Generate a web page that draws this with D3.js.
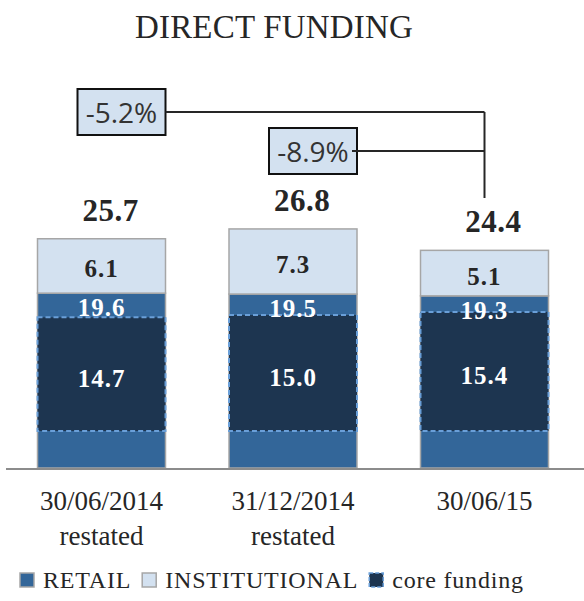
<!DOCTYPE html>
<html>
<head>
<meta charset="utf-8">
<script src="https://cdnjs.cloudflare.com/ajax/libs/d3/7.8.5/d3.min.js"></script>
<style>
  body { margin: 0; background: #fff; }
  svg text { font-family: "Liberation Serif", "Times New Roman", serif; }
</style>
</head>
<body>
<div id="chart"></div>
<script>
// data
var periods = ["30/06/2014|restated", "31/12/2014|restated", "30/06/15"];
var retail = [19.6, 19.5, 19.3];
var institutional = [6.1, 7.3, 5.1];
var totals = [25.7, 26.8, 24.4];
var coreFunding = [14.7, 15.0, 15.4];
var changes = [{from: 0, to: 2, label: "-5.2%"}, {from: 1, to: 2, label: "-8.9%"}];

var _width = 584, _height = 601;
var colors = {retail: "#336699", inst: "#d3e1f0", core: "#1d3550", dash: "#6a9fd8", edge: "#a6a6a6", text: "#262626"};

var svg = d3.select("#chart").append("svg")
  .attr("width", _width)
  .attr("height", _height);

var x = d3.scaleBand()
  .domain(periods)
  .range([6, 580])
  .paddingInner(0.3316)
  .paddingOuter(0.1645);

var y = d3.scaleLinear()
  .domain([0, 30])
  .range([468, 468 - 30 * 8.92]);

// core funding is drawn on its own scale, floating inside the retail bar
var y2 = d3.scaleLinear()
  .domain([0, 20])
  .range([431, 431 - 20 * 7.73]);

svg.append("text")
  .attr("x", 274).attr("y", 38)
  .attr("text-anchor", "middle")
  .style("font-size", "33px")
  .style("letter-spacing", "0.2px")
  .style("fill", "#262626")
  .text("DIRECT FUNDING");

var barsG = svg.append("g").attr("class", "bars");

// retail segments
barsG.selectAll("rect.retail")
  .data(retail)
  .enter().append("rect")
    .attr("class", "retail")
    .attr("x", function (d, i) { return x(periods[i]); })
    .attr("width", x.bandwidth())
    .attr("y", function (d) { return y(d); })
    .attr("height", function (d) { return y(0) - y(d); })
    .style("fill", colors.retail)
    .style("stroke", colors.edge)
    .style("stroke-width", 1.5);

// institutional segments stacked on top
barsG.selectAll("rect.inst")
  .data(institutional)
  .enter().append("rect")
    .attr("class", "inst")
    .attr("x", function (d, i) { return x(periods[i]); })
    .attr("width", x.bandwidth())
    .attr("y", function (d, i) { return y(retail[i] + d); })
    .attr("height", function (d) { return y(0) - y(d); })
    .style("fill", colors.inst)
    .style("stroke", colors.edge)
    .style("stroke-width", 1.5);

// core funding overlay
barsG.selectAll("rect.core")
  .data(coreFunding)
  .enter().append("rect")
    .attr("class", "core")
    .attr("x", function (d, i) { return x(periods[i]); })
    .attr("width", x.bandwidth())
    .attr("y", function (d) { return y2(d); })
    .attr("height", function (d) { return y2(0) - y2(d); })
    .style("fill", colors.core)
    .style("stroke", colors.dash)
    .style("stroke-width", 2)
    .style("stroke-dasharray", "5,3");

// baseline
svg.append("line")
  .attr("x1", 6).attr("x2", 584)
  .attr("y1", y(0) + 1).attr("y2", y(0) + 1)
  .style("stroke", "#8c8c8c")
  .style("stroke-width", 2);

var cx = function (i) { return x(periods[i]) + x.bandwidth() / 2; };

var labelsG = svg.append("g").attr("class", "labels")
  .style("font-weight", "bold")
  .style("font-size", "25px")
  .style("letter-spacing", "1px");

labelsG.selectAll("text.inst")
  .data(institutional)
  .enter().append("text")
    .attr("x", function (d, i) { return cx(i); })
    .attr("y", function (d, i) { return (y(retail[i]) + y(retail[i] + d)) / 2 + 3; })
    .attr("text-anchor", "middle")
    .attr("dominant-baseline", "central")
    .style("fill", colors.text)
    .text(function (d) { return d.toFixed(1); });

labelsG.selectAll("text.retail")
  .data(retail)
  .enter().append("text")
    .attr("x", function (d, i) { return cx(i); })
    .attr("y", function (d) { return y(d) + 23; })
    .attr("text-anchor", "middle")
    .style("fill", "#fff")
    .text(function (d) { return d.toFixed(1); });

labelsG.selectAll("text.core")
  .data(coreFunding)
  .enter().append("text")
    .attr("x", function (d, i) { return cx(i); })
    .attr("y", function (d) { return (y2(0) + y2(d)) / 2 + 4; })
    .attr("text-anchor", "middle")
    .attr("dominant-baseline", "central")
    .style("fill", "#fff")
    .text(function (d) { return d.toFixed(1); });

labelsG.selectAll("text.total")
  .data(totals)
  .enter().append("text")
    .attr("x", function (d, i) { return cx(i) + 9; })
    .attr("y", function (d) { return y(d) - 18; })
    .attr("text-anchor", "middle")
    .style("font-size", "31px")
    .style("letter-spacing", "0.5px")
    .style("fill", colors.text)
    .text(function (d) { return d.toFixed(1); });

// category labels
var catG = svg.append("g").attr("class", "categories");
periods.forEach(function (p, i) {
  var t = catG.append("text")
    .attr("x", cx(i))
    .attr("y", 510)
    .attr("text-anchor", "middle")
    .style("font-size", "27px")
    .style("fill", colors.text);
  p.split("|").forEach(function (line, j) {
    t.append("tspan").attr("x", cx(i)).attr("dy", j === 0 ? 0 : 35).text(line);
  });
});

// change brackets
var annG = svg.append("g").attr("class", "annotations");
var bracketX = cx(2);
var rowY = [112, 151];
annG.append("line")
  .attr("x1", bracketX).attr("x2", bracketX)
  .attr("y1", rowY[0]).attr("y2", 198)
  .style("stroke", "#262626").style("stroke-width", 2);

changes.forEach(function (c, i) {
  var bx = cx(c.from) + 20, by = rowY[i];
  var g = annG.append("g");
  g.append("rect")
    .attr("x", bx - 44).attr("y", by - 23)
    .attr("width", 88).attr("height", 46)
    .style("fill", colors.inst)
    .style("stroke", "#111")
    .style("stroke-width", 2);
  g.append("line")
    .attr("x1", i === 0 ? bx + 44 : bx + 39).attr("x2", bracketX)
    .attr("y1", by).attr("y2", by)
    .style("stroke", "#262626").style("stroke-width", 2);
  g.append("text")
    .attr("x", bx).attr("y", by)
    .attr("text-anchor", "middle")
    .attr("dominant-baseline", "central")
    .style("font-family", "'Open Sans', sans-serif")
    .style("font-size", "28px")
    .style("fill", "#333")
    .text(c.label);
});

// legend
var legendItems = [
  {label: "RETAIL", fill: colors.retail, stroke: colors.edge, dash: null},
  {label: "INSTITUTIONAL", fill: colors.inst, stroke: colors.edge, dash: null},
  {label: "core funding", fill: colors.core, stroke: colors.dash, dash: "4,2"}
];
var legendG = svg.append("g").attr("class", "legend");
var lx = 20;
legendItems.forEach(function (item) {
  legendG.append("rect")
    .attr("x", lx).attr("y", 573)
    .attr("width", 14).attr("height", 14)
    .style("fill", item.fill)
    .style("stroke", item.stroke)
    .style("stroke-width", 1.5)
    .style("stroke-dasharray", item.dash);
  var t = legendG.append("text")
    .attr("x", lx + 23).attr("y", 588)
    .style("font-size", "24px")
    .style("letter-spacing", "0.8px")
    .style("fill", colors.text)
    .text(item.label);
  lx = lx + 23 + t.node().getComputedTextLength() + 11;
});
</script>
</body>
</html>
